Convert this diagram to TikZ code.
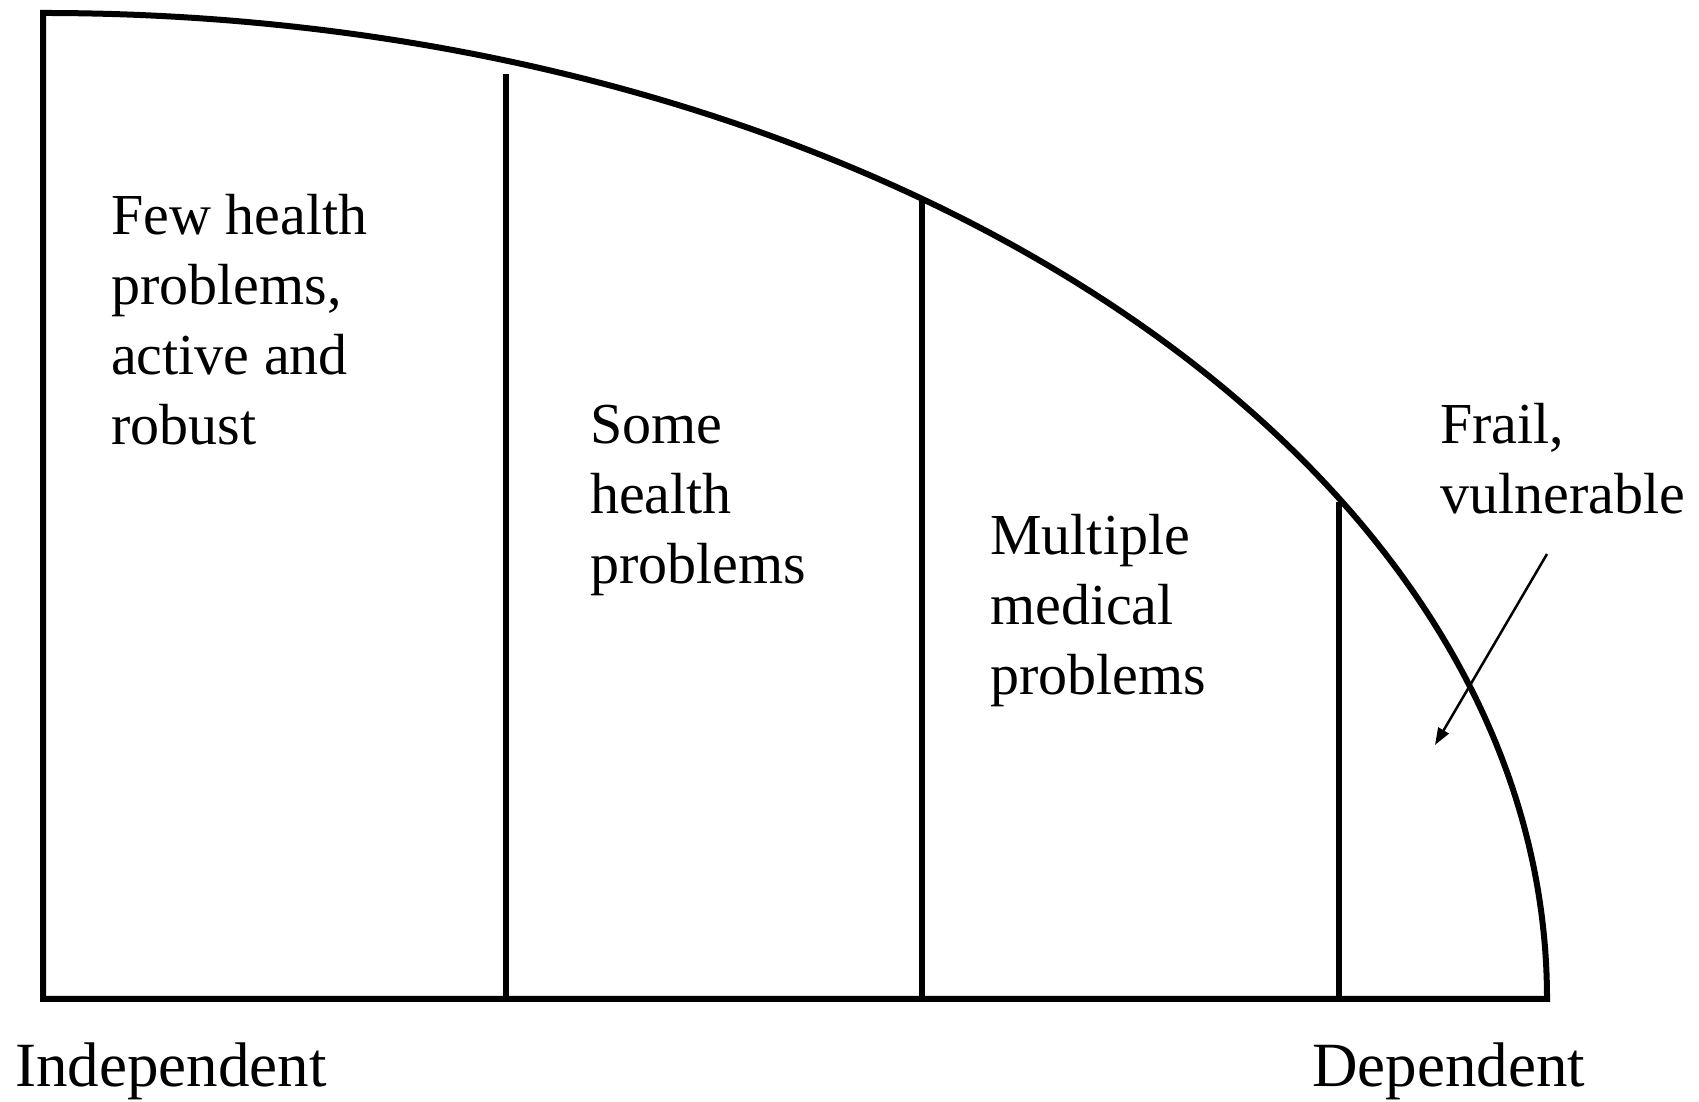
\documentclass[tikz,border=0pt]{standalone}
\usepackage{fontspec}
\setmainfont{Liberation Serif}
\usetikzlibrary{arrows.meta}
\begin{document}
\begin{tikzpicture}[x=1pt,y=1pt,
  outline/.style={line width=6pt,line join=miter},
  divider/.style={line width=6pt},
  label/.style={anchor=base west,inner sep=0pt,align=left,font=\fontsize{58}{70}\selectfont},
  endlabel/.style={anchor=base west,inner sep=0pt,font=\fontsize{63}{70}\selectfont},
  pointer/.style={line width=2.5pt,-{Triangle[length=17pt,width=12pt]}}]
\useasboundingbox (0,0) rectangle (1699,1102);
\coordinate (bl) at (43,103);
\coordinate (tl) at (43,1089);
\coordinate (br) at (1547,103);
\draw[outline] (br) -- (bl) -- (tl) arc[start angle=90,end angle=0,x radius=1504,y radius=986] -- cycle;
\coordinate (d1b) at (506,103);
\coordinate (d1t) at (506,1028);
\coordinate (d2b) at (922,103);
\coordinate (d2t) at (922,903);
\coordinate (d3b) at (1339,103);
\coordinate (d3t) at (1339,600);
\draw[divider] (d1b) -- (d1t);
\draw[divider] (d2b) -- (d2t);
\draw[divider] (d3b) -- (d3t);
\node[label] (few) at (111,657) {Few health\\problems,\\active and\\robust};
\node[label] (some) at (590,518) {Some\\health\\problems};
\node[label] (multi) at (990,407) {Multiple\\medical\\problems};
\node[label] (frail) at (1440,588) {Frail,\\vulnerable};
\node[endlabel] (indep) at (15,15) {Independent};
\node[endlabel] (dep) at (1312,15) {Dependent};
\coordinate (arrs) at (1547,548);
\coordinate (arre) at (1435,357);
\draw[pointer] (arrs) -- (arre);
\end{tikzpicture}
\end{document}
